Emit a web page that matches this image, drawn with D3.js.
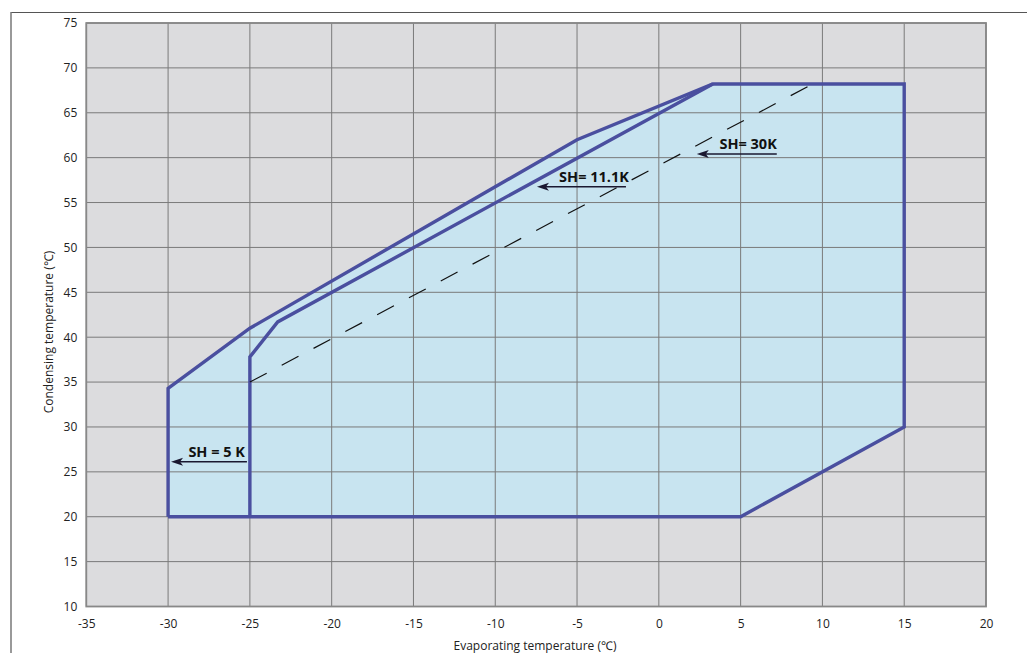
<!DOCTYPE html>
<html><head><meta charset="utf-8">
<script src="https://cdn.jsdelivr.net/npm/d3@7"></script>
<style>
html,body{margin:0;padding:0;background:#fff;}
svg{display:block;font-family:"Open Sans",sans-serif;}
</style></head>
<body>
<svg id="chart" width="1027" height="653"></svg>
<script>
// Data
const xTicks = [-35,-30,-25,-20,-15,-10,-5,0,5,10,15,20];
const yTicks = [10,15,20,25,30,35,40,45,50,55,60,65,70,75];
// Outer envelope (SH = 5 K)
const envelopeX = [-30,-30,-25,-5,3.3,15,15,5,-30];
const envelopeY = [20,34.3,41,62,68.2,68.2,30,20,20];
// SH = 11.1 K boundary
const sh11X = [-25,-25,-23.3,3.3];
const sh11Y = [20,37.8,41.7,68.2];
// SH = 30 K boundary (dashed)
const sh30X = [-25,9.4];
const sh30Y = [35,68.2];
// Annotations: label, arrow start x, arrow end x, arrow y, text end x, text baseline y
const annLabels = ["SH = 5 K","SH= 11.1K","SH= 30K"];
const annFromX = [-25.18,-2.01,7.21];
const annToX = [-29.82,-7.45,2.32];
const annArrowY = [26.13,56.77,60.41];
const annTextX = [-25.3,-1.83,7.21];
const annTextY = [26.7,57.29,60.96];

const svg = d3.select("#chart");
const x = d3.scaleLinear().domain([-35,20]).range([86.3,986]);
const y = d3.scaleLinear().domain([10,75]).range([606.5,23]);

// outer frame
svg.append("line").attr("x1",11).attr("x2",1027).attr("y1",12.5).attr("y2",12.5).attr("stroke","#555").attr("stroke-width",1.2);
svg.append("line").attr("x1",11).attr("x2",11).attr("y1",12).attr("y2",653).attr("stroke","#777").attr("stroke-width",1.5);

// plot bg
svg.append("rect").attr("x",x(-35)).attr("y",y(75)).attr("width",x(20)-x(-35)).attr("height",y(10)-y(75)).attr("fill","#dcdcde");

const line = d3.line().x(d=>x(d[0])).y(d=>y(d[1]));
const env = envelopeX.map((v,i)=>[v,envelopeY[i]]);
svg.append("path").attr("d",line(env)+"Z").attr("fill","#c8e4f0");

// grid
const g = svg.append("g");
xTicks.forEach(t=>{
  g.append("line").attr("x1",x(t)).attr("x2",x(t)).attr("y1",y(75)).attr("y2",y(10)).attr("stroke","#7a7a7a").attr("stroke-width",1);
});
yTicks.forEach(t=>{
  g.append("line").attr("x1",x(-35)).attr("x2",x(20)).attr("y1",y(t)).attr("y2",y(t)).attr("stroke","#7a7a7a").attr("stroke-width",1);
});
// plot border
svg.append("rect").attr("x",x(-35)).attr("y",y(75)).attr("width",x(20)-x(-35)).attr("height",y(10)-y(75)).attr("fill","none").attr("stroke","#888").attr("stroke-width",1.8);

// axes labels via d3 axes
const fmt = d => String(d);
const xAxis = d3.axisBottom(x).tickValues(xTicks).tickSize(0).tickPadding(13).tickFormat(fmt);
const gx = svg.append("g").attr("transform",`translate(0,${y(10)})`).call(xAxis);
gx.select(".domain").remove();
gx.selectAll("text").attr("font-size",12).attr("fill","#222").attr("font-family","Open Sans");

const yAxis = d3.axisLeft(y).tickValues(yTicks).tickSize(0).tickPadding(9).tickFormat(fmt);
const gy = svg.append("g").attr("transform",`translate(${x(-35)},0)`).call(yAxis);
gy.select(".domain").remove();
gy.selectAll("text").attr("font-size",12).attr("fill","#222").attr("font-family","Open Sans");

// axis titles
svg.append("text").attr("x",535).attr("y",650).attr("text-anchor","middle").attr("font-size",12).attr("fill","#222").text("Evaporating temperature (℃)");
svg.append("text").attr("transform","translate(53,332) rotate(-90)").attr("text-anchor","middle").attr("font-size",12).attr("fill","#222").text("Condensing temperature (℃)");

// envelope lines
const stroke = "#4a4f9f";
svg.append("path").attr("d",line(env)).attr("fill","none").attr("stroke",stroke).attr("stroke-width",3.4).attr("stroke-linejoin","miter");
svg.append("path").attr("d",line(sh11X.map((v,i)=>[v,sh11Y[i]]))).attr("fill","none").attr("stroke",stroke).attr("stroke-width",3.4);
svg.append("path").attr("d",line(sh30X.map((v,i)=>[v,sh30Y[i]]))).attr("fill","none").attr("stroke","#111").attr("stroke-width",1.2).attr("stroke-dasharray","19,17");

// annotations
const ink = "#1a1830";
annLabels.forEach((lab,i)=>{
  const ay = y(annArrowY[i]);
  const x0 = x(annFromX[i]), x1 = x(annToX[i]);
  svg.append("line").attr("x1",x0).attr("x2",x1+8).attr("y1",ay).attr("y2",ay).attr("stroke",ink).attr("stroke-width",1.5);
  svg.append("path").attr("d",`M${x1},${ay} L${x1+12},${ay-4} L${x1+9},${ay} L${x1+12},${ay+4} Z`).attr("fill",ink);
  svg.append("text").attr("x",x(annTextX[i])).attr("y",y(annTextY[i])).attr("text-anchor","end").attr("font-size",14.5).attr("font-weight","bold").attr("fill","#111").text(lab);
});
</script>
</body></html>
